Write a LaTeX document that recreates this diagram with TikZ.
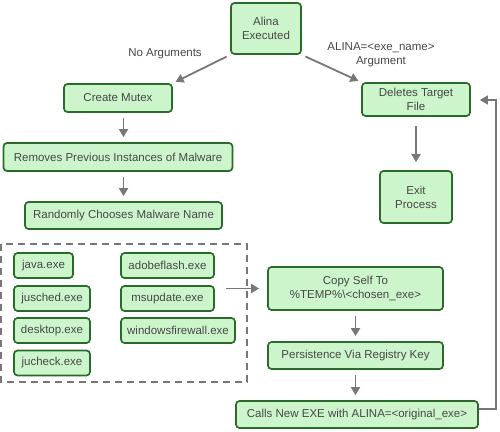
\documentclass[tikz,border=0pt]{standalone}
\usepackage{fontspec}
\setmainfont{Liberation Sans}
\usetikzlibrary{arrows.meta}
\definecolor{boxfill}{HTML}{CCF5CC}
\definecolor{boxline}{HTML}{2A6A2A}
\definecolor{txt}{HTML}{474747}
\definecolor{arr}{HTML}{777777}
\begin{document}
\begin{tikzpicture}[x=1pt, y=-1pt, font=\fontsize{11.5}{14}\selectfont, text=txt,
	box/.style={draw=boxline, fill=boxfill, line width=1.7pt, rounded corners=3.5pt,
		inner sep=0pt, align=center},
	flow/.style={-{Triangle[length=8pt, width=9pt]}, arr, line width=1.8pt},
	lbl/.style={text=txt, align=center}]

	\useasboundingbox (0, 0) rectangle (500, 431);

	% main column
	\node[box, minimum width=70, minimum height=51] (alina) at (266, 28.5) {Alina\\Executed};
	\node[box, minimum width=108, minimum height=28] (mutex) at (118, 98) {Create Mutex};
	\node[box, minimum width=229, minimum height=28] (removes) at (118, 157) {Removes Previous Instances of Malware};
	\node[box, minimum width=197, minimum height=27] (random) at (123.5, 215.5) {Randomly Chooses Malware Name};

	\node[box, minimum width=108, minimum height=33] (deletes) at (416, 99.5) {Deletes Target\\File};
	\node[box, minimum width=72, minimum height=52] (exit) at (416, 197) {Exit\\Process};

	% name choices
	\draw[arr, dashed, line width=1.3pt, dash pattern=on 7pt off 5pt] (1, 244) rectangle (247, 382);
	\node[box, minimum width=59, minimum height=25] (java) at (43.5, 265.5) {java.exe};
	\node[box, minimum width=76, minimum height=25] (jusched) at (52, 298.5) {jusched.exe};
	\node[box, minimum width=76, minimum height=25] (desktop) at (52, 330.5) {desktop.exe};
	\node[box, minimum width=76, minimum height=25] (jucheck) at (52, 363) {jucheck.exe};
	\node[box, minimum width=93, minimum height=25] (adobe) at (167.5, 265.5) {adobeflash.exe};
	\node[box, minimum width=93, minimum height=25] (msupdate) at (167.5, 298.5) {msupdate.exe};
	\node[box, minimum width=114, minimum height=25] (firewall) at (178, 330.5) {windowsfirewall.exe};
	\coordinate (pick) at (226, 288.5);

	\node[box, minimum width=175, minimum height=43] (copy) at (355.5, 288.5) {Copy Self To\\\%TEMP\%\textbackslash{}<chosen\_exe>};
	\node[box, minimum width=175, minimum height=27] (persist) at (355.5, 355.5) {Persistence Via Registry Key};
	\node[box, minimum width=242, minimum height=27] (calls) at (357, 414.5) {Calls New EXE with ALINA=<original\_exe>};

	% arrows
	\draw[flow, shorten <=4pt, shorten >=3pt] (alina.south west) -- (mutex.north east);
	\draw[flow, shorten <=4pt, shorten >=3pt] (alina.south east) -- (deletes.north west);
	\node[lbl] (noargs) at (165, 54) {No Arguments};
	\node[lbl] (witharg) at (381, 55) {ALINA=<exe\_name>\\Argument};

	\draw[flow, shorten <=5pt, shorten >=5pt] (random.north |- mutex.south) -- (random.north |- removes.north);
	\draw[flow, shorten <=5pt, shorten >=5pt] (random.north |- removes.south) -- (random.north);
	\draw[flow, shorten <=9pt, shorten >=8pt] (deletes) -- (exit);
	\draw[flow, shorten >=8pt] (pick) -- (copy);
	\draw[flow, shorten <=5pt, shorten >=5pt] (copy) -- (persist);
	\draw[flow, shorten <=5pt, shorten >=5pt] (persist.south) -- (persist.south |- calls.north);

	% back to the start
	\draw[flow, line width=1.3pt, shorten >=9pt] (calls.east |- 0, 409) -- (496, 409) -- (496, 100) -- (deletes.east |- 0, 100);

\end{tikzpicture}
\end{document}
